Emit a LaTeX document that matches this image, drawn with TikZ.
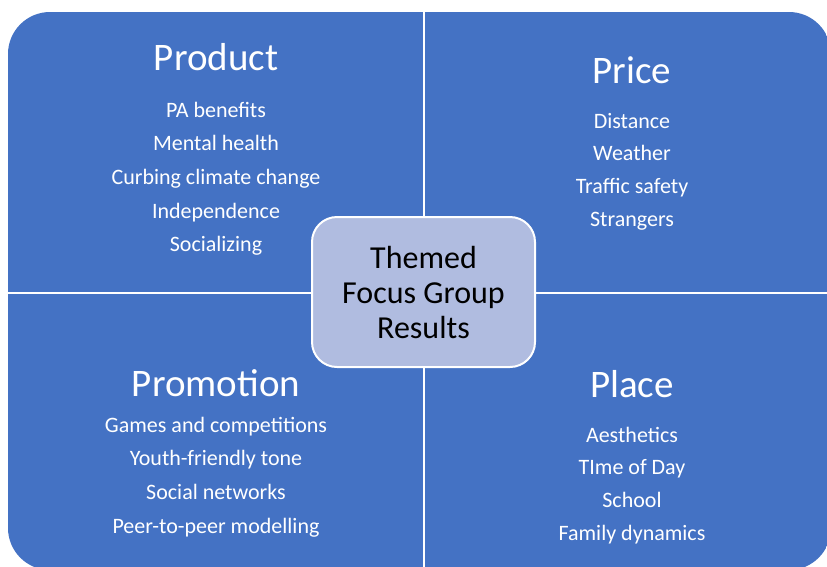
\documentclass[tikz,border=0pt]{standalone}
\usepackage{fontspec}
\setmainfont{Carlito}
\usepackage{tikz}
\usetikzlibrary{positioning}

\definecolor{quadblue}{RGB}{68,114,196}
\definecolor{hubblue}{RGB}{176,188,224}

\begin{document}
\begin{tikzpicture}[
    x=1pt, y=-1pt,
    quad/.style={fill=quadblue},
    heading/.style={text=white, anchor=base, inner sep=0pt, font=\fontsize{39}{47}\selectfont},
    item/.style={text=white, anchor=base, inner sep=0pt, font=\fontsize{22}{26}\selectfont},
    hub/.style={rectangle, rounded corners=25pt, draw=white, line width=2pt, fill=hubblue, minimum width=223pt, minimum height=150pt, align=center, font=\fontsize{32}{35}\selectfont}
]

\clip (0,0) rectangle (827,566);
\fill[white] (0,0) rectangle (827,566);

% the four quadrants, outer corners rounded
\begin{scope}
\clip[rounded corners=42pt] (8,12) rectangle (831,570);
\fill[quad] (8,12) rectangle (423,291.5);
\fill[quad] (425,12) rectangle (831,291.5);
\fill[quad] (8,293.5) rectangle (423,570);
\fill[quad] (425,293.5) rectangle (831,570);
\end{scope}

\node[heading] (product) at (216,70) {Product};
\node[heading] (price) at (632,83) {Price};
\node[heading] (promotion) at (216,396) {Promotion};
\node[heading] (place) at (632,397) {Place};

\foreach \txt [count=\i] in {PA benefits, Mental health, Curbing climate change, Independence, Socializing}
    \node[item] (product\i) at ({216},{83.3+33.7*\i}) {\txt};
\foreach \txt [count=\i] in {Distance, Weather, Traffic safety, Strangers}
    \node[item] (price\i) at ({632},{95.1+32.9*\i}) {\txt};
\foreach \txt [count=\i] in {Games and competitions, Youth-friendly tone, Social networks, Peer-to-peer modelling}
    \node[item] (promotion\i) at ({216},{398.3+33.7*\i}) {\txt};
\foreach \txt [count=\i] in {Aesthetics, TIme of Day, School, Family dynamics}
    \node[item] (place\i) at ({632},{409.3+32.7*\i}) {\txt};

\node[hub] (results) at (423.5,292) {Themed\\Focus Group\\Results};

\end{tikzpicture}
\end{document}
